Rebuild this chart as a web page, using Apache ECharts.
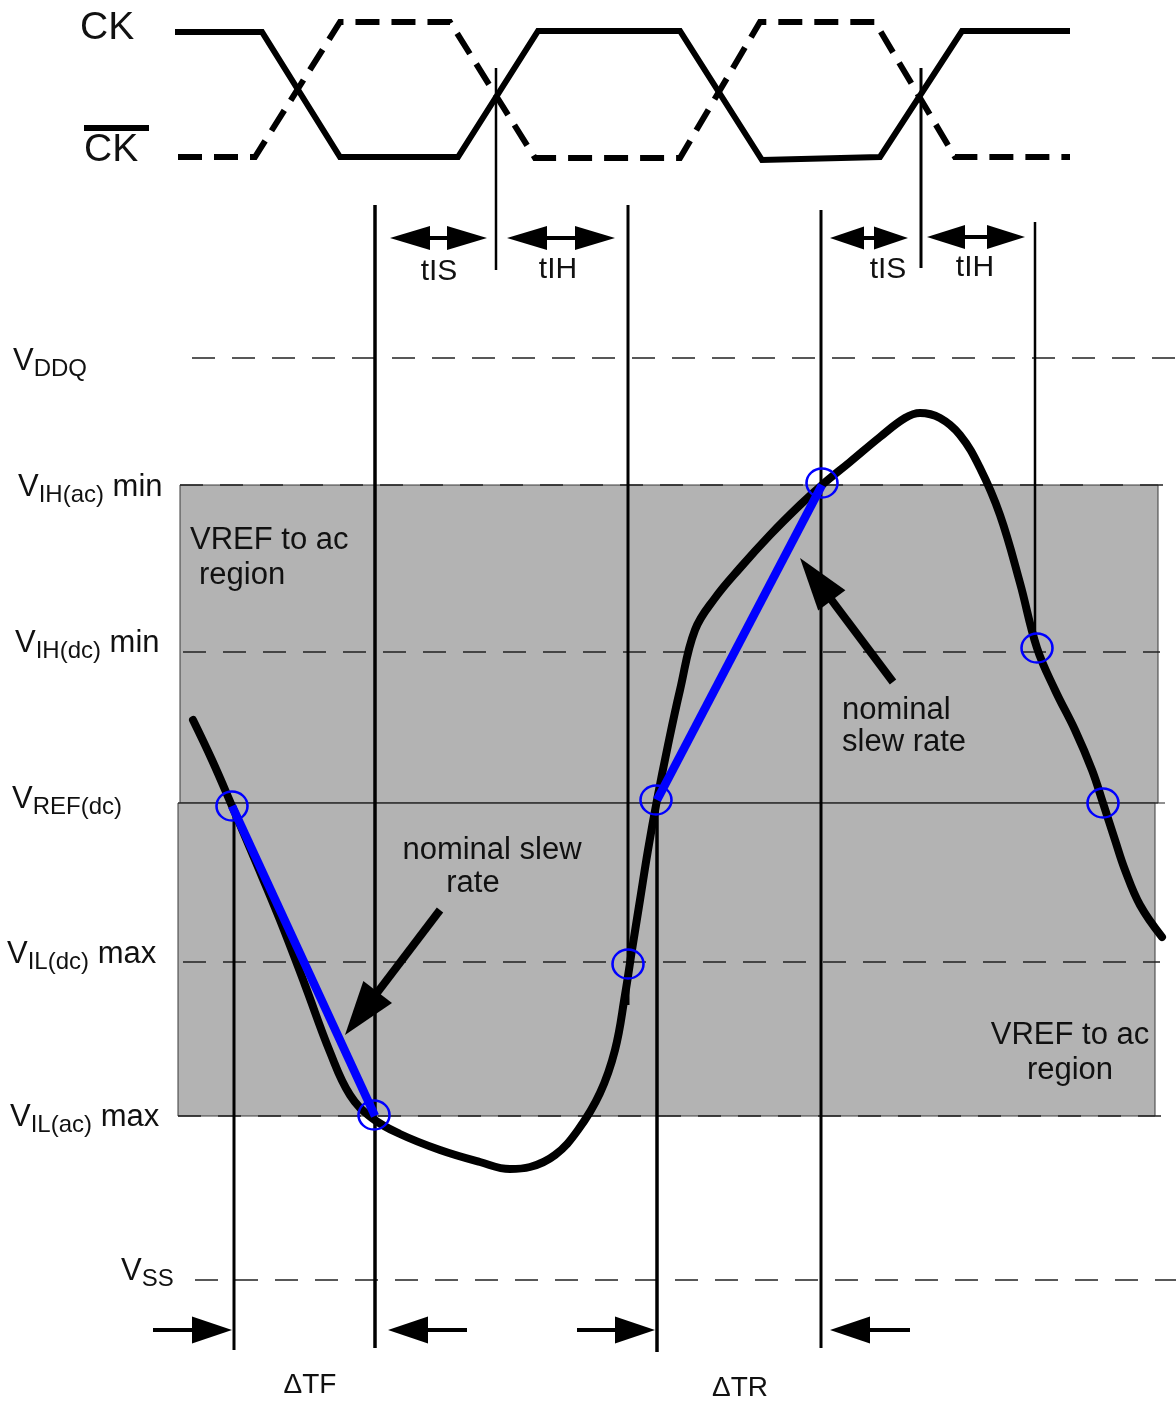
<!DOCTYPE html>
<html>
<head>
<meta charset="utf-8">
<script src="https://cdn.jsdelivr.net/npm/echarts@6/dist/echarts.min.js"></script>
<style>
html, body { margin: 0; padding: 0; background: #fff; }
#chart { width: 1176px; height: 1403px; }
</style>
</head>
<body>
<div id="chart"></div>
<script>
// drawing space: x = time (0..1176), y = position down the page (0..1403)
var ckX = [175, 262, 340, 458, 538, 680, 762, 880, 962, 1070];
var ckY = [32, 32, 157, 157, 31, 31, 160, 157, 31, 31];
var ckbX = [178, 255, 340, 450, 535, 680, 760, 875, 955, 1070];
var ckbY = [157, 157, 22, 22, 158, 158, 22, 22, 157, 157];

// voltage levels
var levelNames = ['V{s|DDQ}', 'V{s|IH(ac)} min', 'V{s|IH(dc)} min', 'V{s|REF(dc)}', 'V{s|IL(dc)} max', 'V{s|IL(ac)} max', 'V{s|SS}'];
var levelY = [358, 485, 652, 803, 962, 1116, 1280];
var levelStart = [192, 180, 183, 178, 183, 178, 195];
var levelEnd = [1176, 1176, 1160, 1165, 1160, 1165, 1176];
var levelSolid = [0, 0, 0, 1, 0, 0, 0];
var levelLabelX = [13, 18, 15, 12, 7, 10, 121];
var levelLabelY = [361, 487, 643, 799, 954, 1117, 1271];

// "VREF to ac" shaded regions
var bandX0 = [180, 178];
var bandX1 = [1158, 1155];
var bandY0 = [485, 803];
var bandY1 = [803, 1116];

// vertical timing markers
var markerX = [375, 628, 821, 1035, 234, 657, 496, 921];
var markerTop = [205, 205, 210, 222, 805, 800, 68, 68];
var markerBottom = [1348, 1005, 1348, 648, 1350, 1352, 270, 268];
var markerWidth = [3.5, 3, 3, 2.5, 3, 3.5, 2.5, 3];

// input waveform
var waveX = [193, 212, 232, 255, 280, 305, 330, 350, 372, 400, 440, 480, 510, 530, 555, 578, 600, 615, 625, 632, 640, 648, 657, 668, 680, 695, 715, 740, 770, 800, 822, 850, 880, 905, 920, 940, 960, 980, 1000, 1020, 1037, 1055, 1075, 1092, 1103, 1115, 1125, 1140, 1162];
var waveY = [720, 760, 806, 860, 920, 985, 1052, 1095, 1118, 1134, 1150, 1162, 1169, 1167, 1155, 1130, 1093, 1050, 995, 950, 900, 850, 800, 745, 690, 630, 598, 568, 535, 505, 485, 462, 437, 418, 413, 418, 435, 468, 515, 583, 648, 690, 730, 770, 803, 840, 870, 905, 937];

// nominal slew lines
var slewX0 = [232, 657];
var slewY0 = [806, 800];
var slewX1 = [375, 822];
var slewY1 = [1116, 485];

// crossing points
var crossX = [232, 374, 628, 656, 822, 1037, 1103];
var crossY = [806, 1115, 964, 800, 483, 648, 803];

// arrows (tail -> tip)
var arrowX0 = [390, 507, 830, 927, 153, 467, 577, 910, 440, 893];
var arrowY0 = [238, 238, 238, 237, 1330, 1330, 1330, 1330, 910, 682];
var arrowX1 = [487, 615, 908, 1025, 232, 388, 655, 830, 345, 800];
var arrowY1 = [238, 238, 238, 237, 1330, 1330, 1330, 1330, 1035, 558];
var arrowBoth = [1, 1, 1, 1, 0, 0, 0, 0, 0, 0];
var arrowHead = [40, 40, 34, 38, 40, 40, 40, 40, 54, 53];
var arrowHeadW = [24, 24, 23, 24, 27, 27, 27, 27, 36, 34];
var arrowShaft = [4, 4, 4, 4, 4, 4, 4, 4, 8, 8];

// free text
var textLabels = ['CK', 'CK', 'tIS', 'tIH', 'tIS', 'tIH', 'VREF to ac', 'region', 'VREF to ac', 'region', 'nominal slew', 'rate', 'nominal', 'slew rate', '\u0394TF', '\u0394TR'];
var textX = [80, 84, 439, 558, 888, 975, 190, 199, 1070, 1070, 492, 473, 842, 842, 310, 740];
var textY = [28, 150, 272, 270, 270, 268, 540, 575, 1035, 1070, 850, 883, 710, 742, 1385, 1388];
var textAlign = ['left', 'left', 'center', 'center', 'center', 'center', 'left', 'left', 'center', 'center', 'center', 'center', 'left', 'left', 'center', 'center'];
var textSize = [39, 39, 30, 30, 30, 30, 31, 31, 31, 31, 31, 31, 31, 31, 28, 28];

var FONT = '"Liberation Sans", Arial, sans-serif';

function pairs(xs, ys) {
    return xs.map(function (x, i) { return [x, ys[i]]; });
}

var chart = echarts.init(document.getElementById('chart'));

var series = [];

// shaded bands
series.push({
    type: 'custom',
    silent: true,
    z: 1,
    data: pairs(bandX0, bandY0),
    renderItem: function (params, api) {
        var i = params.dataIndex;
        var a = api.coord([bandX0[i], bandY0[i]]);
        var b = api.coord([bandX1[i], bandY1[i]]);
        return {
            type: 'rect',
            shape: { x: a[0], y: a[1], width: b[0] - a[0], height: b[1] - a[1] },
            style: { fill: '#b3b3b3', stroke: '#3a3a3a', lineWidth: 1 }
        };
    }
});

// level lines
series.push({
    type: 'custom',
    silent: true,
    z: 2,
    data: pairs(levelStart, levelY),
    renderItem: function (params, api) {
        var i = params.dataIndex;
        var a = api.coord([levelStart[i], levelY[i]]);
        var b = api.coord([levelEnd[i], levelY[i]]);
        return {
            type: 'line',
            shape: { x1: a[0], y1: a[1], x2: b[0], y2: b[1] },
            style: {
                stroke: '#222',
                lineWidth: levelSolid[i] ? 1.2 : 1.5,
                lineDash: levelSolid[i] ? null : [23, 17]
            }
        };
    }
});

// vertical markers
series.push({
    type: 'custom',
    silent: true,
    z: 3,
    data: pairs(markerX, markerTop),
    renderItem: function (params, api) {
        var i = params.dataIndex;
        var a = api.coord([markerX[i], markerTop[i]]);
        var b = api.coord([markerX[i], markerBottom[i]]);
        return {
            type: 'line',
            shape: { x1: a[0], y1: a[1], x2: b[0], y2: b[1] },
            style: { stroke: '#000', lineWidth: markerWidth[i] }
        };
    }
});

// clocks
series.push({
    type: 'line', z: 4, silent: true, showSymbol: false,
    data: pairs(ckX, ckY),
    lineStyle: { color: '#000', width: 6, join: 'miter' }
});
series.push({
    type: 'line', z: 4, silent: true, showSymbol: false,
    data: pairs(ckbX, ckbY),
    lineStyle: { color: '#000', width: 6, type: [24, 12], join: 'miter' }
});
// overline of CK-bar
series.push({
    type: 'line', z: 4, silent: true, showSymbol: false,
    data: [[84, 128], [149, 128]],
    lineStyle: { color: '#000', width: 6 }
});

// waveform
series.push({
    type: 'line', z: 5, silent: true, showSymbol: false, smooth: 0.4,
    data: pairs(waveX, waveY),
    lineStyle: { color: '#000', width: 8, cap: 'round', join: 'round' }
});

// slew lines
slewX0.forEach(function (x, i) {
    series.push({
        type: 'line', z: 6, silent: true, showSymbol: false,
        data: [[slewX0[i], slewY0[i]], [slewX1[i], slewY1[i]]],
        lineStyle: { color: '#0000ff', width: 8.5, opacity: 1 }
    });
});

// crossing circles
series.push({
    type: 'scatter', z: 7, silent: true,
    symbol: 'circle', symbolSize: [31, 29],
    data: pairs(crossX, crossY),
    itemStyle: { color: 'rgba(0,0,0,0)', borderColor: '#0000ff', borderWidth: 2.5, opacity: 1 }
});

// arrows
series.push({
    type: 'custom', z: 8, silent: true,
    data: pairs(arrowX0, arrowY0),
    renderItem: function (params, api) {
        var i = params.dataIndex;
        var p0 = api.coord([arrowX0[i], arrowY0[i]]);
        var p1 = api.coord([arrowX1[i], arrowY1[i]]);
        var dx = p1[0] - p0[0], dy = p1[1] - p0[1];
        var len = Math.sqrt(dx * dx + dy * dy);
        var ux = dx / len, uy = dy / len, nx = -uy, ny = ux;
        var h = arrowHead[i], w = arrowHeadW[i] / 2;
        function head(tip, sx, sy) {
            var bx = tip[0] - sx * h, by = tip[1] - sy * h;
            return {
                type: 'polygon',
                shape: { points: [tip, [bx + nx * w, by + ny * w], [bx - nx * w, by - ny * w]] },
                style: { fill: '#000' }
            };
        }
        var s0 = arrowBoth[i] ? [p0[0] + ux * h * 0.8, p0[1] + uy * h * 0.8] : p0;
        var s1 = [p1[0] - ux * h * 0.8, p1[1] - uy * h * 0.8];
        var children = [{
            type: 'line',
            shape: { x1: s0[0], y1: s0[1], x2: s1[0], y2: s1[1] },
            style: { stroke: '#000', lineWidth: arrowShaft[i] }
        }, head(p1, ux, uy)];
        if (arrowBoth[i]) children.push(head(p0, -ux, -uy));
        return { type: 'group', children: children };
    }
});

// level labels
series.push({
    type: 'custom', z: 9, silent: true,
    data: pairs(levelLabelX, levelLabelY),
    renderItem: function (params, api) {
        var i = params.dataIndex;
        var p = api.coord([levelLabelX[i], levelLabelY[i]]);
        return {
            type: 'text',
            style: {
                x: p[0], y: p[1],
                text: levelNames[i],
                fill: '#111',
                fontSize: 31,
                fontFamily: FONT,
                lineHeight: 40,
                align: 'left',
                verticalAlign: 'middle',
                rich: {
                    s: { fontSize: 24, fontFamily: FONT, fill: '#111', lineHeight: 23, verticalAlign: 'bottom' }
                }
            }
        };
    }
});

// other text
series.push({
    type: 'custom', z: 9, silent: true,
    data: pairs(textX, textY),
    renderItem: function (params, api) {
        var i = params.dataIndex;
        var p = api.coord([textX[i], textY[i]]);
        return {
            type: 'text',
            style: {
                x: p[0], y: p[1],
                text: textLabels[i],
                fill: '#111',
                fontSize: textSize[i],
                fontFamily: FONT,
                align: textAlign[i],
                verticalAlign: 'middle'
            }
        };
    }
});

chart.setOption({
    animation: false,
    backgroundColor: '#fff',
    grid: { left: 0, right: 0, top: 0, bottom: 0 },
    xAxis: { type: 'value', min: 0, max: 1176, show: false },
    yAxis: { type: 'value', min: 0, max: 1403, inverse: true, show: false },
    series: series
});
</script>
</body>
</html>
